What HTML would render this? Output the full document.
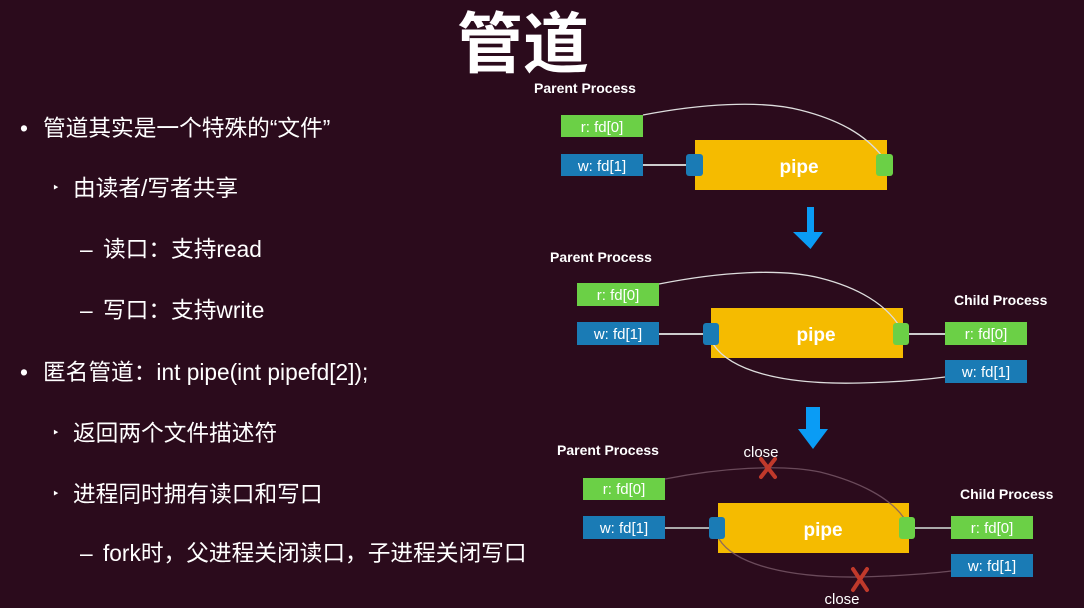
<!DOCTYPE html>
<html><head><meta charset="utf-8"><style>
html,body{margin:0;padding:0;}
body{width:1084px;height:608px;background:#2b0b1c;position:relative;overflow:hidden;font-family:"Liberation Sans","Noto Sans CJK SC",sans-serif;color:#fff;}
.t{position:absolute;white-space:nowrap;font-size:22.7px;line-height:26px;}
.title{position:absolute;left:457px;top:0px;font-size:66px;font-weight:bold;line-height:78px;font-family:"Noto Sans CJK SC",sans-serif;}
svg{position:absolute;left:0;top:0;}
</style></head><body>
<div class="title">管道</div>
<div class="t" style="left:20px;top:115px">•</div><div class="t" style="left:43px;top:115px">管道其实是一个特殊的“文件”</div>
<div class="t" style="left:52px;top:175px;font-size:13px">‣</div><div class="t" style="left:73px;top:175px">由读者/写者共享</div>
<div class="t" style="left:80px;top:236px">–</div><div class="t" style="left:103px;top:236px">读口：支持read</div>
<div class="t" style="left:80px;top:297px">–</div><div class="t" style="left:103px;top:297px">写口：支持write</div>
<div class="t" style="left:20px;top:359px">•</div><div class="t" style="left:43px;top:359px">匿名管道：int pipe(int pipefd[2]);</div>
<div class="t" style="left:52px;top:420px;font-size:13px">‣</div><div class="t" style="left:73px;top:420px">返回两个文件描述符</div>
<div class="t" style="left:52px;top:481px;font-size:13px">‣</div><div class="t" style="left:73px;top:481px">进程同时拥有读口和写口</div>
<div class="t" style="left:80px;top:540px">–</div><div class="t" style="left:103px;top:540px">fork时，父进程关闭读口，子进程关闭写口</div>
<svg width="1084" height="608" font-family="Liberation Sans, sans-serif">
<g font-size="14" font-weight="bold" fill="#fff">
<text x="534" y="93">Parent Process</text>
<text x="550" y="262">Parent Process</text>
<text x="954" y="305">Child Process</text>
<text x="557" y="455">Parent Process</text>
<text x="960" y="499">Child Process</text>
</g>
<!-- diagram 1 -->
<line x1="643" y1="165" x2="688" y2="165" stroke="#ccc" stroke-width="2"/>
<rect x="695" y="140" width="192" height="50" fill="#f5bb00"/>
<path d="M643,115 C700,104 760,100 800,110 C840,120 865,135 882,156" stroke="#ddd" fill="none" stroke-width="1.3"/>
<rect x="686" y="154" width="17" height="22" rx="3" fill="#1a7bb5"/>
<rect x="876" y="154" width="17" height="22" rx="3" fill="#6bd046"/>
<rect x="561" y="115" width="82" height="22" fill="#6bd046"/>
<rect x="561" y="154" width="82" height="22" fill="#1a7bb5"/>
<g font-size="15" fill="#fff" text-anchor="middle">
<text x="602" y="132">r: fd[0]</text><text x="602" y="171">w: fd[1]</text>
</g>
<text x="799" y="173" font-size="19" font-weight="bold" fill="#fff" text-anchor="middle">pipe</text>
<polygon points="807,207 814,207 814,232 823,232 810.5,249 793,232 807,232" fill="#0a9cf5"/>
<!-- diagram 2 -->
<line x1="659" y1="334" x2="704" y2="334" stroke="#ccc" stroke-width="2"/>
<line x1="908" y1="334" x2="945" y2="334" stroke="#ccc" stroke-width="2"/>
<rect x="711" y="308" width="192" height="50" fill="#f5bb00"/>
<path d="M659,284 C720,272 780,268 820,278 C860,288 885,305 898,324" stroke="#ddd" fill="none" stroke-width="1.3"/>
<path d="M713,344 C730,370 780,385 860,383 C900,382 930,379 945,377" stroke="#ddd" fill="none" stroke-width="1.3"/>
<rect x="703" y="323" width="16" height="22" rx="3" fill="#1a7bb5"/>
<rect x="893" y="323" width="16" height="22" rx="3" fill="#6bd046"/>
<rect x="577" y="283" width="82" height="23" fill="#6bd046"/>
<rect x="577" y="322" width="82" height="23" fill="#1a7bb5"/>
<rect x="945" y="322" width="82" height="23" fill="#6bd046"/>
<rect x="945" y="360" width="82" height="23" fill="#1a7bb5"/>
<g font-size="15" fill="#fff" text-anchor="middle">
<text x="618" y="300">r: fd[0]</text><text x="618" y="339">w: fd[1]</text>
<text x="986" y="339">r: fd[0]</text><text x="986" y="377">w: fd[1]</text>
</g>
<text x="816" y="341" font-size="19" font-weight="bold" fill="#fff" text-anchor="middle">pipe</text>
<polygon points="806,407 820,407 820,429 828,429 813,449 798,429 806,429" fill="#0a9cf5"/>
<!-- diagram 3 -->
<line x1="665" y1="528" x2="710" y2="528" stroke="#aaa" stroke-width="2"/>
<line x1="914" y1="528" x2="951" y2="528" stroke="#aaa" stroke-width="2"/>
<rect x="718" y="503" width="191" height="50" fill="#f5bb00"/>
<path d="M665,479 C720,468 780,464 820,472 C860,482 890,498 904,518" stroke="#7a5a6a" fill="none" stroke-width="1.3" opacity="0.8"/>
<path d="M719,539 C735,565 790,578 860,577 C900,576 935,573 951,571" stroke="#7a5a6a" fill="none" stroke-width="1.3" opacity="0.8"/>
<rect x="709" y="517" width="16" height="22" rx="3" fill="#1a7bb5"/>
<rect x="899" y="517" width="16" height="22" rx="3" fill="#6bd046"/>
<rect x="583" y="478" width="82" height="22" fill="#6bd046"/>
<rect x="583" y="516" width="82" height="23" fill="#1a7bb5"/>
<rect x="951" y="516" width="82" height="23" fill="#6bd046"/>
<rect x="951" y="554" width="82" height="23" fill="#1a7bb5"/>
<g font-size="15" fill="#fff" text-anchor="middle">
<text x="624" y="494">r: fd[0]</text><text x="624" y="533">w: fd[1]</text>
<text x="992" y="533">r: fd[0]</text><text x="992" y="571">w: fd[1]</text>
<text x="761" y="457">close</text><text x="842" y="604">close</text>
</g>
<text x="823" y="536" font-size="19" font-weight="bold" fill="#fff" text-anchor="middle">pipe</text>
<g stroke="#c0392b" stroke-width="4" stroke-linecap="round">
<line x1="761" y1="459" x2="775" y2="477"/><line x1="775" y1="459" x2="761" y2="477"/>
<line x1="853" y1="569" x2="867" y2="590"/><line x1="867" y1="569" x2="853" y2="590"/>
</g>
</svg>
</body></html>
